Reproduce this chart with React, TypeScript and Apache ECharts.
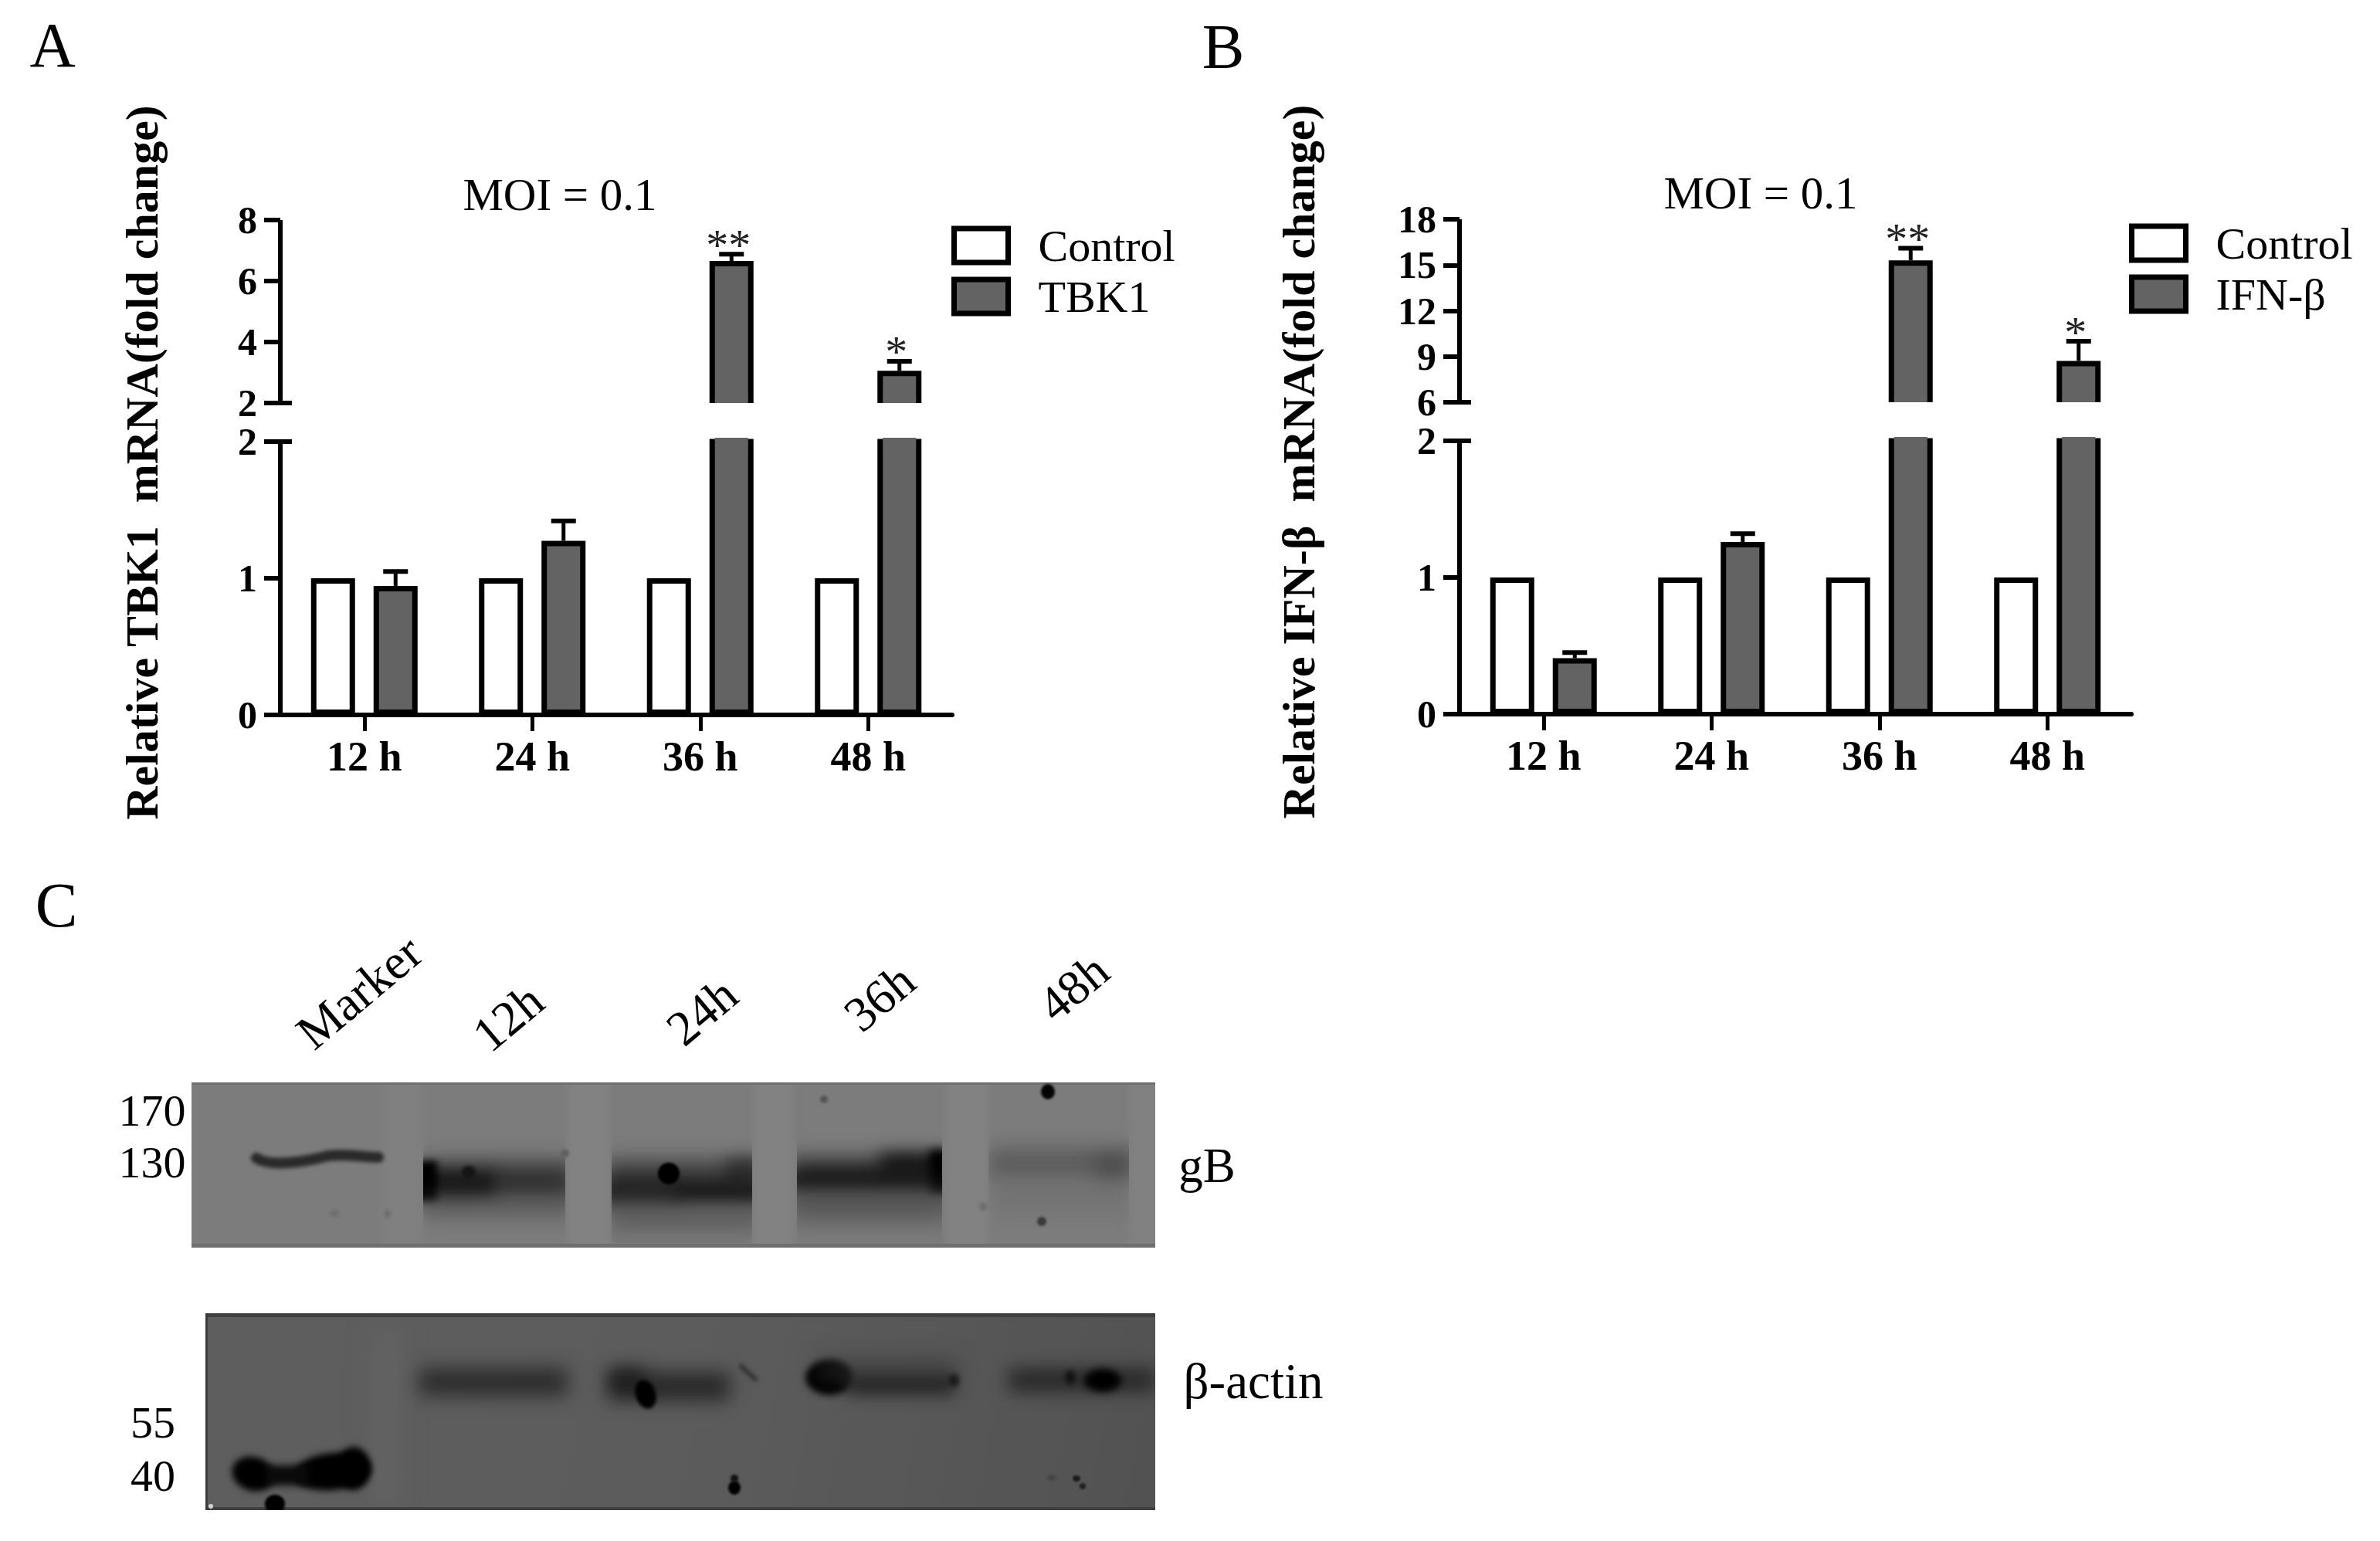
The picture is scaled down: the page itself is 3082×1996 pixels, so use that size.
import React, { useEffect, useRef } from "react";
import * as echarts from "echarts";

const categories = ["12 h", "24 h", "36 h", "48 h"];
const controlValues = [1, 1, 1, 1];
const tbk1Values = [0.944, 1.274, 6.66, 3.06];
const tbk1ErrorTops = [1.05, 1.42, 6.88, 3.37];
const ifnValues = [0.41, 1.26, 15.3, 8.71];
const ifnErrorTops = [0.45, 1.32, 16.1, 10.0];
const significance = ["", "", "**", "*"];
const blotLanes = ["Marker", "12h", "24h", "36h", "48h"];
const gBMarkers = ["170", "130"];
const actinMarkers = ["55", "40"];

const SERIF = "'Liberation Serif', 'Times New Roman', serif";
const INK = "#000000";
const FILL = "#636363";
const BAR_W = 57;
const BAR_GAP = 24;
const BAR_BORDER = 7;

type Ctx = CanvasRenderingContext2D;

function soft(c: Ctx, blur: number, color: string, draw: () => void) {
  c.save();
  c.filter = `blur(${blur}px)`;
  c.fillStyle = color;
  c.strokeStyle = color;
  c.beginPath();
  draw();
  c.restore();
}
function ell(c: Ctx, blur: number, color: string, x: number, y: number, rx: number, ry: number, rot = 0) {
  soft(c, blur, color, () => {
    c.ellipse(x, y, rx, ry, rot, 0, Math.PI * 2);
    c.fill();
  });
}
function box(c: Ctx, blur: number, color: string, x0: number, y0: number, x1: number, y1: number) {
  soft(c, blur, color, () => {
    c.rect(x0, y0, x1 - x0, y1 - y0);
    c.fill();
  });
}
function lane(c: Ctx, x0: number, y0: number, x1: number, y1: number, draw: () => void) {
  c.save();
  c.beginPath();
  c.rect(x0, y0, x1 - x0, y1 - y0);
  c.clip();
  draw();
  c.restore();
}

function topBlot(): string {
  const X = 248, Y = 1402, W = 1248, H = 214;
  const cv = document.createElement("canvas");
  cv.width = W;
  cv.height = H;
  const c = cv.getContext("2d") as Ctx;
  c.translate(-X, -Y);
  c.fillStyle = "#7c7c7c";
  c.fillRect(X, Y, W, H);
  box(c, 6, "#808080", 495, Y - 10, 548, Y + H + 10);
  box(c, 6, "#828282", 735, Y - 10, 790, Y + H + 10);
  box(c, 6, "#828282", 975, Y - 10, 1028, Y + H + 10);
  box(c, 6, "#828282", 1224, Y - 10, 1280, Y + H + 10);
  box(c, 6, "#818181", 1462, Y - 10, 1510, Y + H + 10);
  box(c, 0, "#6f6f6f", X, Y, X + W, Y + 3);
  box(c, 0, "#6f6f6f", X, Y + H - 5, X + W, Y + H);

  // Marker
  soft(c, 2.5, "#2a2a2a", () => {
    c.moveTo(332, 1500);
    c.bezierCurveTo(350, 1512, 395, 1505, 425, 1497);
    c.bezierCurveTo(450, 1494, 470, 1499, 490, 1499);
    c.lineWidth = 14;
    c.lineCap = "round";
    c.stroke();
  });
  // 12h
  lane(c, 548, 1470, 732, 1600, () => {
    box(c, 14, "rgba(40,40,40,0.9)", 540, 1506, 745, 1555);
    box(c, 10, "rgba(15,15,15,0.75)", 545, 1518, 640, 1550);
    box(c, 5, "#000000", 535, 1504, 566, 1555);
    box(c, 13, "rgba(85,85,85,0.6)", 545, 1552, 745, 1578);
  });
  ell(c, 2, "#151515", 607, 1518, 9, 8);
  ell(c, 1.5, "#606060", 732, 1494, 5, 5);
  // 24h
  lane(c, 792, 1470, 974, 1610, () => {
    box(c, 14, "rgba(45,45,45,0.9)", 780, 1505, 990, 1560);
    box(c, 9, "rgba(10,10,10,0.85)", 870, 1534, 990, 1556);
    box(c, 10, "rgba(25,25,25,0.8)", 780, 1530, 880, 1558);
    box(c, 10, "rgba(30,30,30,0.6)", 940, 1500, 990, 1540);
    box(c, 15, "rgba(80,80,80,0.7)", 785, 1558, 990, 1594);
  });
  ell(c, 1.5, "#000000", 866, 1520, 14, 14);
  // 36h
  lane(c, 1032, 1460, 1220, 1610, () => {
    box(c, 14, "rgba(25,25,25,0.92)", 1020, 1502, 1235, 1544);
    box(c, 9, "rgba(10,10,10,0.8)", 1020, 1522, 1235, 1538);
    box(c, 11, "rgba(15,15,15,0.9)", 1140, 1494, 1235, 1522);
    box(c, 6, "#000000", 1204, 1490, 1235, 1545);
    box(c, 16, "rgba(70,70,70,0.75)", 1020, 1540, 1235, 1580);
  });
  // 48h
  lane(c, 1280, 1460, 1462, 1610, () => {
    box(c, 13, "rgba(80,80,80,0.75)", 1280, 1488, 1475, 1526);
    box(c, 11, "rgba(70,70,70,0.7)", 1418, 1496, 1458, 1528);
    box(c, 15, "rgba(105,105,105,0.5)", 1285, 1526, 1465, 1570);
  });
  ell(c, 1.5, "#050505", 1357, 1414, 9, 10);
  ell(c, 1.5, "#3a3a3a", 1349, 1582, 6, 6);
  ell(c, 1.5, "#555555", 1067, 1424, 5, 5);
  ell(c, 2, "#6c6c6c", 1273, 1563, 5, 5);
  ell(c, 2, "#6c6c6c", 433, 1572, 6, 4);
  ell(c, 2, "#6c6c6c", 502, 1572, 4, 6);
  return cv.toDataURL("image/png");
}

function bottomBlot(): string {
  const X = 266, Y = 1701, W = 1230, H = 255;
  const cv = document.createElement("canvas");
  cv.width = W;
  cv.height = H;
  const c = cv.getContext("2d") as Ctx;
  c.translate(-X, -Y);
  const g = c.createLinearGradient(X, Y, X + W, Y + H);
  g.addColorStop(0, "#5e5e5e");
  g.addColorStop(0.5, "#5c5c5c");
  g.addColorStop(1, "#525252");
  c.fillStyle = g;
  c.fillRect(X, Y, W, H);
  box(c, 16, "#646464", 485, 1720, 515, 1950);
  box(c, 0, "#404040", X, Y, X + W, Y + 5);
  box(c, 0, "#404040", X, Y + H - 4, X + W, Y + H);
  box(c, 0, "#3c3c3c", X, Y, X + 3, Y + H);

  // Marker 40 band
  ell(c, 4, "#000000", 328, 1909, 28, 22, 0.3);
  ell(c, 4, "#000000", 430, 1906, 50, 24, -0.1);
  ell(c, 4, "#000000", 458, 1902, 22, 28);
  box(c, 5, "#0a0a0a", 345, 1898, 400, 1924);
  ell(c, 1.5, "#000000", 356, 1948, 13, 12);
  ell(c, 0.5, "#d5d5d5", 273, 1951, 3, 3);
  // 12h
  box(c, 12, "rgba(40,40,40,0.92)", 543, 1772, 735, 1808);
  // 24h
  box(c, 12, "rgba(35,35,35,0.92)", 788, 1778, 945, 1814);
  box(c, 11, "rgba(25,25,25,0.8)", 790, 1772, 835, 1800);
  ell(c, 2, "#000000", 836, 1806, 13, 19, -0.3);
  soft(c, 2.5, "#333333", () => {
    c.moveTo(958, 1768);
    c.lineTo(980, 1788);
    c.lineWidth = 6;
    c.stroke();
  });
  // 36h
  ell(c, 4, "#000000", 1074, 1784, 31, 23);
  box(c, 10, "rgba(30,30,30,0.9)", 1095, 1778, 1236, 1806);
  box(c, 14, "rgba(55,55,55,0.6)", 1060, 1760, 1236, 1785);
  ell(c, 3, "#1a1a1a", 1235, 1788, 7, 8);
  // 48h
  box(c, 11, "rgba(35,35,35,0.88)", 1306, 1772, 1496, 1803);
  ell(c, 5, "#000000", 1428, 1788, 24, 15);
  ell(c, 3, "#121212", 1386, 1784, 7, 9);
  // specks
  ell(c, 1.5, "#000000", 951, 1927, 8, 9);
  ell(c, 1.5, "#111111", 951, 1915, 5, 5);
  ell(c, 1, "#1c1c1c", 1394, 1915, 5, 4);
  ell(c, 1, "#222222", 1402, 1925, 4, 4);
  ell(c, 2, "#3c3c3c", 1362, 1914, 5, 3);
  return cv.toDataURL("image/png");
}

type Panel = {
  gridBase: number;
  axisX: number;
  topY: number;
  name: string;
  values: number[];
  errorTops: number[];
  upperMin: number;
  upperMax: number;
  upperInterval: number;
};

const BAND_SPAN = 870;
const UPPER_H = 237;
const BREAK_H = 50;
const LOWER_H = 354;
const LOWER_MAX = 2;
const SECOND_BAR_SHIFT = (BAR_W + BAR_GAP) / 2;

function makeErrorSeries(p: Panel, gridIndex: number, upper: boolean) {
  const rows = p.values
    .map((v, i) => [i, v, p.errorTops[i]])
    .filter((r) => (upper ? r[2] > LOWER_MAX : r[2] <= LOWER_MAX));
  return {
    type: "custom",
    name: p.name + " error",
    xAxisIndex: gridIndex,
    yAxisIndex: gridIndex,
    z: 1,
    data: rows,
    silent: true,
    encode: { x: 0, y: [1, 2] },
    renderItem: (_: any, api: any) => {
      const i = api.value(0);
      const base = api.coord([i, api.value(1)]);
      const top = api.coord([i, api.value(2)]);
      const cx = base[0] + SECOND_BAR_SHIFT;
      const capHalf = 16;
      const star = significance[i];
      const kids: any[] = [
        { type: "line", shape: { x1: cx, y1: base[1], x2: cx, y2: top[1] }, style: { stroke: INK, lineWidth: 5 } },
        { type: "line", shape: { x1: cx - capHalf, y1: top[1], x2: cx + capHalf, y2: top[1] }, style: { stroke: INK, lineWidth: 6 } },
      ];
      if (star) {
        kids.push({
          type: "text",
          style: {
            x: cx - 4,
            y: top[1] - 12,
            text: star,
            fontFamily: SERIF,
            fontSize: 58,
            fill: "#222222",
            textAlign: "center",
            textVerticalAlign: "middle",
            verticalAlign: "middle",
          },
        });
      }
      return { type: "group", children: kids };
    },
  };
}

// The broken bars have no outline on the side that faces the axis break.
function makeBreakEdgeSeries(p: Panel, gridIndex: number, limit: number, upper: boolean) {
  const rows = p.values.map((v, i) => [i, limit, v]).filter((r) => r[2] > LOWER_MAX);
  return {
    type: "custom",
    name: p.name + " break",
    xAxisIndex: gridIndex,
    yAxisIndex: gridIndex,
    z: 3,
    data: rows,
    silent: true,
    encode: { x: 0, y: 1 },
    renderItem: (_: any, api: any) => {
      const pt = api.coord([api.value(0), api.value(1)]);
      const cx = pt[0] + SECOND_BAR_SHIFT;
      const inner = BAR_W - 2 * BAR_BORDER;
      const kids: any[] = [
        {
          type: "rect",
          shape: { x: cx - inner / 2, y: pt[1] - 5, width: inner, height: 10 },
          style: { fill: FILL },
        },
      ];
      if (upper) {
        kids.push({
          type: "rect",
          shape: { x: cx - BAR_W / 2 - 1, y: pt[1], width: BAR_W + 2, height: 7 },
          style: { fill: "#ffffff" },
        });
      }
      return { type: "group", children: kids };
    },
  };
}

function buildPanel(p: Panel) {
  const up = p.gridBase;
  const lo = p.gridBase + 1;
  const lowerTop = p.topY + UPPER_H + BREAK_H;
  const grids = [
    { left: p.axisX, top: p.topY, width: BAND_SPAN, height: UPPER_H },
    { left: p.axisX, top: lowerTop, width: BAND_SPAN, height: LOWER_H },
  ];
  const baseX = {
    type: "category",
    data: categories,
    boundaryGap: true,
  };
  const xAxes = [
    { ...baseX, gridIndex: up, show: false },
    {
      ...baseX,
      gridIndex: lo,
      axisLine: { show: true, lineStyle: { color: INK, width: 6 } },
      axisTick: { show: true, alignWithLabel: true, length: 21, lineStyle: { color: INK, width: 5 } },
      axisLabel: { fontFamily: SERIF, fontWeight: "bold", fontSize: 54, color: INK, margin: 27, interval: 0 },
    },
  ];
  const label = { fontFamily: SERIF, fontWeight: "bold", fontSize: 50, color: INK, margin: 30 };
  const line = { show: true, onZero: false, lineStyle: { color: INK, width: 6, cap: "butt" } };
  const tick = { show: true, length: 21, lineStyle: { color: INK, width: 6 } };
  const yAxes = [
    {
      type: "value",
      gridIndex: up,
      min: p.upperMin,
      max: p.upperMax,
      interval: p.upperInterval,
      axisLine: line,
      axisTick: tick,
      axisLabel: label,
      splitLine: { show: false },
    },
    {
      type: "value",
      gridIndex: lo,
      min: 0,
      max: LOWER_MAX,
      interval: 1,
      axisLine: line,
      axisTick: tick,
      axisLabel: label,
      splitLine: { show: false },
    },
  ];
  const bar = (name: string, data: (number | null)[], color: string, g: number) => ({
    type: "bar",
    name,
    data,
    xAxisIndex: g,
    yAxisIndex: g,
    barWidth: BAR_W,
    barGap: `${(BAR_GAP / BAR_W) * 100}%`,
    clip: true,
    z: 2,
    itemStyle: { color, borderColor: INK, borderWidth: BAR_BORDER },
  });
  const series = [
    bar("Control", controlValues.map(() => null), "#ffffff", up),
    bar(p.name, p.values.map((v) => (v > p.upperMin ? v : null)), FILL, up),
    bar("Control", controlValues, "#ffffff", lo),
    bar(p.name, p.values, FILL, lo),
    makeErrorSeries(p, up, true),
    makeErrorSeries(p, lo, false),
    makeBreakEdgeSeries(p, up, p.upperMin, true),
    makeBreakEdgeSeries(p, lo, LOWER_MAX, false),
  ];
  return { grids, xAxes, yAxes, series };
}

const panelA: Panel = {
  gridBase: 0,
  axisX: 363,
  topY: 285,
  name: "TBK1",
  values: tbk1Values,
  errorTops: tbk1ErrorTops,
  upperMin: 2,
  upperMax: 8,
  upperInterval: 2,
};
const panelB: Panel = {
  gridBase: 2,
  axisX: 1890,
  topY: 284,
  name: "IFN-β",
  values: ifnValues,
  errorTops: ifnErrorTops,
  upperMin: 6,
  upperMax: 18,
  upperInterval: 3,
};

function txt(text: string, x: number, y: number, fontSize: number, extra: any = {}, elExtra: any = {}) {
  return {
    type: "text",
    x,
    y,
    z: 120,
    ...elExtra,
    style: {
      text,
      x: 0,
      y: 0,
      fontFamily: SERIF,
      fontSize,
      fill: INK,
      textAlign: "center",
      textVerticalAlign: "middle",
      verticalAlign: "middle",
      ...extra,
    },
  };
}

export default function App() {
  const ref = useRef<HTMLDivElement>(null);
  useEffect(() => {
    document.body.style.margin = "0";
    const chart = echarts.init(ref.current as HTMLDivElement, undefined, { renderer: "svg" });
    const a = buildPanel(panelA);
    const b = buildPanel(panelB);

    const breakTick = (axisX: number, y: number) => ({
      type: "line",
      z: 110,
      shape: { x1: axisX, y1: y, x2: axisX + 15, y2: y },
      style: { stroke: INK, lineWidth: 6 },
    });

    const lanePos = [
      [465, 1285],
      [658, 1318],
      [909, 1310],
      [1139, 1292],
      [1390, 1279],
    ];
    const graphic: any[] = [
      breakTick(panelA.axisX, panelA.topY + UPPER_H),
      breakTick(panelA.axisX, panelA.topY + UPPER_H + BREAK_H),
      breakTick(panelB.axisX, panelB.topY + UPPER_H),
      breakTick(panelB.axisX, panelB.topY + UPPER_H + BREAK_H),
      txt("A", 68, 58, 82),
      txt("B", 1584, 60, 82),
      txt("C", 73, 1172, 82),
      txt("MOI = 0.1", 725, 252, 59),
      txt("MOI = 0.1", 2280, 250, 59),
      txt("Relative TBK1  mRNA(fold change)", 184, 599, 60, { fontWeight: "bold" }, { rotation: Math.PI / 2 }),
      txt("Relative IFN-β  mRNA(fold change)", 1682, 598, 60, { fontWeight: "bold" }, { rotation: Math.PI / 2 }),
      {
        type: "image",
        x: 248,
        y: 1402,
        z: 50,
        style: { image: topBlot(), x: 0, y: 0, width: 1248, height: 214 },
      },
      {
        type: "image",
        x: 266,
        y: 1701,
        z: 50,
        style: { image: bottomBlot(), x: 0, y: 0, width: 1230, height: 255 },
      },
      ...blotLanes.map((t, i) =>
        txt(t, lanePos[i][0], lanePos[i][1], 64, {}, { rotation: (40 * Math.PI) / 180 })
      ),
      txt(gBMarkers[0], 197, 1438, 58),
      txt(gBMarkers[1], 197, 1505, 58),
      txt(actinMarkers[0], 198, 1842, 58),
      txt(actinMarkers[1], 198, 1911, 58),
      txt("gB", 1563, 1510, 63),
      txt("β-actin", 1623, 1789, 65),
    ];

    const legend = (name: string, left: number, top: number) => ({
      show: true,
      orient: "vertical",
      left,
      top,
      padding: 0,
      itemWidth: 70,
      itemHeight: 44,
      itemGap: 8,
      selectedMode: false,
      icon: "rect",
      data: ["Control", name],
      itemStyle: { borderColor: INK, borderWidth: 7 },
      textStyle: { fontFamily: SERIF, fontSize: 58, color: INK, lineHeight: 36, padding: [0, 0, 8, 34] },
    });

    chart.setOption({
      animation: false,
      backgroundColor: "#ffffff",
      textStyle: { fontFamily: SERIF },
      grid: [...a.grids, ...b.grids],
      xAxis: [...a.xAxes, ...b.xAxes],
      yAxis: [...a.yAxes, ...b.yAxes],
      series: [...a.series, ...b.series],
      legend: [legend("TBK1", 1232, 289), legend("IFN-β", 2757, 286)],
      graphic,
    });
    return () => chart.dispose();
  }, []);
  return <div ref={ref} style={{ position: "absolute", left: 0, top: 0, width: 3082, height: 1996 }} />;
}
